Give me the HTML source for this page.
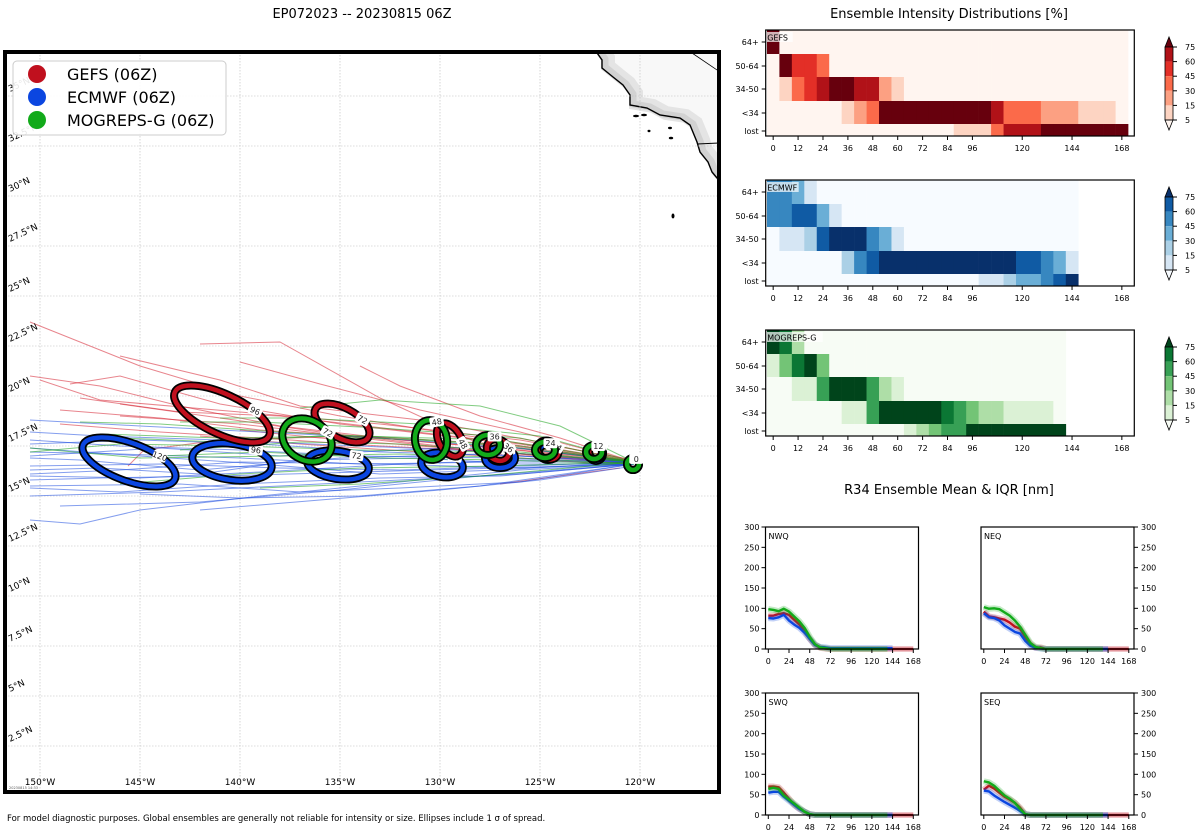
<!DOCTYPE html>
<html><head><meta charset="utf-8"><style>
html,body{margin:0;padding:0;background:#fff}
svg{display:block;font-family:"DejaVu Sans","Liberation Sans",sans-serif}
</style></head><body>
<svg id="root" width="1200" height="840" viewBox="0 0 1200 840" xmlns="http://www.w3.org/2000/svg">
<text x="362" y="18" text-anchor="middle" font-size="13">EP072023 -- 20230815 06Z</text>
<text x="949" y="18" text-anchor="middle" font-size="13">Ensemble Intensity Distributions [%]</text>
<text x="949" y="494" text-anchor="middle" font-size="13">R34 Ensemble Mean &amp; IQR [nm]</text>
<text x="7" y="821" font-size="8.5">For model diagnostic purposes. Global ensembles are generally not reliable for intensity or size. Ellipses include 1 σ of spread.</text>
<g id="map"></g>
<g id="heat"></g>
<g id="r34"></g>
</svg>
<script>
const NS="http://www.w3.org/2000/svg";
function mk(tag,attrs,parent,txt){const e=document.createElementNS(NS,tag);for(const k in attrs)e.setAttribute(k,attrs[k]);if(txt!==undefined)e.textContent=txt;parent.appendChild(e);return e;}

// ---------------- MAP DATA ----------------
const lonTicks=[150,145,140,135,130,125,120];
const latTicks=[2.5,5,7.5,10,12.5,15,17.5,20,22.5,25,27.5,30,32.5,35];
const gefsTracks=[
 [[120.3,16.7],[125,17.5],[130,18.2],[135,19],[140,20],[145,21.5],[150.5,23.7]],
 [[120.3,16.7],[126,17.3],[132,17.8],[138,18.5],[143,19.5],[147,20.5],[150.5,21]],
 [[120.3,16.7],[128,17.6],[133,19.9],[138,22.7],[142,22.6]],
 [[120.3,16.7],[127,17.2],[133,17.5],[139,17.9],[144,18.2],[149,18.6]],
 [[120.3,16.7],[128,17.8],[135,18.6],[141,19.6],[146,21],[148.5,20.6]],
 [[120.3,16.5],[126,16.9],[131,17.2],[137,17.6],[142,18.0]],
 [[120.3,16.7],[124,17.9],[128,19],[132,20.5],[134,21.5]],
 [[120.3,16.7],[127,17.6],[134,18],[141,17.8],[144.8,17.3],[145.6,16.5]],
 [[120.3,16.8],[126,17.8],[133,18.6],[140,19.2],[147,19.8],[150,20.8]],
 [[120.3,16.7],[126,18.2],[131,19.3],[136,20.6],[140,21.7]],
 [[120.3,16.6],[127,17.1],[134,17.9],[140,18.6],[146,19.0]],
 [[120.3,16.7],[125,17.0],[130,17.5],[136,18.2],[141,18.9],[146,19.6]],
 [[120.3,16.7],[126,17.6],[132,18.3],[138,19.0],[143,19.2],[148,19.9]],
 [[120.3,16.6],[127,17.4],[133,17.9],[139,18.3],[144,18.9],[149,19.3]],
 [[120.3,16.7],[125,17.7],[131,18.8],[137,19.5],[141,20.8],[146,22.0]],
 [[120.3,16.6],[126,17.1],[131,17.5],[136,17.9],[140,18.3]],
 [[121,16.4],[124,16.0],[127,15.6]]
];
const ecmwfTracks=[
 [[120.3,16.7],[126,16.5],[132,16.3],[138,16.4],[144,16.6],[150.5,16.5]],
 [[120.3,16.7],[127,16.9],[134,17],[140,17.3],[146,17.5],[150.5,17.8]],
 [[120.3,16.6],[126,16.1],[132,15.8],[138,15.5],[144,15.2],[150.5,15]],
 [[120.3,16.7],[127,17.2],[134,17.5],[141,17.8],[147,18],[150.5,18.2]],
 [[120.3,16.6],[126,16.3],[133,15.6],[139,15.0],[145,14.3],[148,13.6],[150.5,13.8]],
 [[120.3,16.7],[127,16.7],[134,16.6],[140,16.9],[146,17.1],[150.5,17.2]],
 [[120.3,16.6],[128,16.0],[135,15.3],[142,14.7],[149,14.5]],
 [[120.3,16.7],[126,17.4],[133,17.9],[139,18.2],[145,18.5],[150.5,18.8]],
 [[120.3,16.6],[127,16.4],[134,16.2],[141,16.0],[147,15.9],[150.5,15.8]],
 [[120.3,16.7],[128,17.1],[135,16.9],[142,16.3],[148,16.8],[150.5,16.9]],
 [[120.3,16.5],[125,15.8],[130,15.3],[136,14.8],[142,14.3]],
 [[120.3,16.7],[126,16.8],[132,16.6],[139,16.2],[145,15.9],[150.5,16.0]],
 [[120.3,16.6],[127,16.0],[133,15.9],[140,15.6],[146,15.2],[150.5,15.4]],
 [[120.3,16.7],[126,17.0],[133,17.2],[139,17.6],[145,17.8],[150.5,17.6]],
 [[120.3,16.6],[126,16.4],[133,16.6],[140,16.7],[146,16.3],[150.5,16.1]],
 [[120.3,16.7],[127,16.3],[133,16.1],[139,16.6],[145,17.0],[150.5,17.4]],
 [[120.3,16.6],[126,15.7],[132,15.4],[137,15.2],[143,15.6],[150.5,15.5]],
 [[120.3,16.7],[127,17.5],[132,17.3],[138,17.0],[144,17.4],[150.5,17.0]],
 [[120.3,16.6],[126,16.6],[131,16.9],[137,16.8],[142,16.1],[147,16.4],[150.5,16.3]],
 [[120.3,16.6],[128,15.5],[134,15.0],[140,14.9],[145,15.1]]
];
const mogrepsTracks=[
 [[120.3,16.7],[126,17.5],[132,17.9],[138,18.2],[144,18.6],[148,18.7]],
 [[120.3,16.7],[127,17.2],[134,17.3],[140,17.5],[146,17.6],[150.5,17.2]],
 [[120.3,16.7],[124,18.5],[128,19.5],[133,19.8],[137,19.4]],
 [[120.3,16.7],[127,16.5],[134,16.4],[140,16.1],[146,15.6]],
 [[120.3,16.7],[126,17.9],[133,18.4],[139,18.7],[143,18.7]],
 [[120.3,16.6],[126,16.9],[132,17.1],[138,17.0],[145,16.9],[150.5,17.4]],
 [[120.3,16.7],[125,18.0],[131,18.6],[137,18.9],[141,18.9]],
 [[120.3,16.7],[128,16.0],[134,15.6],[139,15.4]],
 [[120.3,16.7],[127,17.8],[134,18.0],[141,17.9],[147,18.1]],
 [[120.3,16.7],[126,17.2],[132,17.6],[137,17.7],[143,17.3]],
 [[120.3,16.7],[126,17.4],[131,17.8],[136,18.0],[141,17.7],[146,17.9]],
 [[120.3,16.6],[127,16.8],[133,16.9],[139,17.2],[144,17.0]]
];
// ellipses: lon, lat, rx(deg), ry(deg), rotation(deg), label
const gefsEll=[[140.9,19.1,2.6,1.0,25,"96"],[134.9,18.65,1.5,0.75,28,"72"],[129.5,17.8,0.9,0.55,60,"48"],[127.1,17.3,0.6,0.5,40,"36"],[124.6,17.3,0.55,0.45,30,"24"],[122.2,17.2,0.35,0.35,0,"12"]];
const ecmwfEll=[[145.55,16.7,2.45,0.95,20,"120"],[140.4,16.7,2.0,0.9,8,"96"],[135.1,16.55,1.55,0.7,8,"72"],[129.9,16.55,1.05,0.6,10,"48"],[127.0,16.9,0.75,0.5,0,"36"],[124.6,17.2,0.45,0.4,0,"24"],[122.2,17.1,0.35,0.35,0,"12"],[120.35,16.6,0.3,0.3,0,"0"]];
const mogrepsEll=[[136.65,17.8,1.3,1.0,30,"72"],[130.45,17.8,0.8,1.0,-10,"48"],[127.6,17.55,0.6,0.5,0,"36"],[124.75,17.3,0.5,0.4,0,"24"],[122.3,17.2,0.4,0.35,0,"12"],[120.35,16.6,0.3,0.3,0,"0"]];

const MX0=5,MY0=52,MX1=719,MY1=792;
function mx(lon){return 40+(150-lon)*20;}
function my(lat){return 396-(lat-20)*20;}

(function(){
 const g=document.getElementById('map');
 const defs=mk('defs',{},g);
 const cp=mk('clipPath',{id:'mapclip'},defs);
 mk('rect',{x:MX0,y:MY0,width:MX1-MX0,height:MY1-MY0},cp);
 const inner=mk('g',{'clip-path':'url(#mapclip)'},g);
 const coast=[[595,50],[602,60],[602,68],[613,77],[623,85],[630,95],[630,105],[647,108],[660,115],[680,118],[690,125],[697,142],[700,152],[708,162],[712,172],[717,178],[722,180]];
 const landPts=coast.map(p=>p.join(',')).join(' ')+' 722,50';
 const land=mk('polygon',{points:landPts,fill:'#f8f8f8'},inner);
 
 
 const cpts=coast.map(p=>p.join(',')).join(' ');
 mk('polyline',{points:cpts,fill:'none',stroke:'#e4e4e4','stroke-width':14,transform:'translate(6,-2)'},inner);
 mk('polyline',{points:cpts,fill:'none',stroke:'#d2d2d2','stroke-width':7,transform:'translate(3,-1)'},inner);
 const cl=mk('polyline',{points:cpts,fill:'none',stroke:'#000','stroke-width':1.4},inner);
 
 
 mk('line',{x1:692,y1:53,x2:720,y2:72,stroke:'#000','stroke-width':0.8},inner);
 mk('line',{x1:697,y1:144,x2:720,y2:143,stroke:'#000','stroke-width':1},inner);
 [[636,116,3,1.3],[644,115,3,1.3],[649,131,1.5,1.2],[670,128,2,1.2],[671,138,2.2,1.3],[673,216,1.5,2.5]].forEach(e=>mk('ellipse',{cx:e[0],cy:e[1],rx:e[2],ry:e[3],fill:'#000'},inner));
 lonTicks.concat([115]).forEach(l=>{const x=mx(l);const gl=mk('line',{x1:x,y1:MY0,x2:x,y2:MY1,stroke:'#bbb','stroke-width':0.6,'stroke-dasharray':'1.5,1.5'},inner);
  
  });
 latTicks.forEach(l=>{const y=my(l);const gl=mk('line',{x1:MX0,y1:y,x2:MX1,y2:y,stroke:'#bbb','stroke-width':0.6,'stroke-dasharray':'1.5,1.5'},inner);
  
  });
 function drawTracks(tr,col,name){tr.forEach(t=>{const p=mk('polyline',{points:t.map(q=>mx(q[0])+','+my(q[1])).join(' '),fill:'none',stroke:col,'stroke-width':1,'stroke-opacity':0.55},inner);
  
  });}
 drawTracks(gefsTracks,'#d62030','gefs-track');
 drawTracks(ecmwfTracks,'#1f4fe0','ecmwf-track');
 drawTracks(mogrepsTracks,'#19a219','mogreps-track');
 function drawEll(list,col,name){list.forEach(e=>{const cx=mx(e[0]),cy=my(e[1]),rx=e[2]*20,ry=e[3]*20;
  const gg=mk('g',{transform:`rotate(${e[4]} ${cx} ${cy})`},inner);
  
  
  mk('ellipse',{cx,cy,rx,ry,fill:'none',stroke:'#000','stroke-width':8},gg);
  mk('ellipse',{cx,cy,rx,ry,fill:'none',stroke:col,'stroke-width':4.5},gg);
  const lx=cx+rx*0.55,ly=cy-ry*0.85;
  mk('rect',{x:lx-7,y:ly-5,width:14,height:10,fill:'#fff',rx:2},gg);
  mk('text',{x:lx,y:ly+3,'font-size':8,'text-anchor':'middle',fill:'#222'},gg,e[5]);
 });}
 drawEll(ecmwfEll,'#0b46e0','ecmwf-ellipse');
 drawEll(gefsEll,'#c0101e','gefs-ellipse');
 drawEll(mogrepsEll,'#12aa1a','mogreps-ellipse');
 latTicks.forEach(l=>{const y=my(l)-4;const t=mk('text',{x:10,y:y,'font-size':9,transform:`rotate(-25 10 ${y})`},inner,(l%1?l.toFixed(1):l)+'°N');
  
  });
 lonTicks.forEach(l=>{const t=mk('text',{x:mx(l),y:785,'font-size':9,'text-anchor':'middle'},inner,l+'°W');
  
  });
 mk('text',{x:9,y:789,'font-size':3.5,fill:'#555'},inner,'20230815 14:33');
 const fr=mk('rect',{x:MX0,y:MY0,width:MX1-MX0,height:MY1-MY0,fill:'none',stroke:'#000','stroke-width':4},g);
 
 
 const lg=mk('g',{},g);
 
 
 mk('rect',{x:13,y:61,width:213,height:74,rx:4,fill:'#fff','fill-opacity':0.9,stroke:'#ccc'},lg);
 [['GEFS (06Z)','#c0101e',74],['ECMWF (06Z)','#0b46e0',97],['MOGREPS-G (06Z)','#12aa1a',120]].forEach(r=>{
  const e=mk('g',{},lg);
  
  
  mk('circle',{cx:37,cy:r[2],r:9,fill:r[1]},e);
  mk('text',{x:67,y:r[2]+6,'font-size':16},e,r[0]);
 });
})();

// ---------------- HEATMAP DATA ----------------
const rowLabels=["64+","50-64","34-50","<34","lost"];
const hourTicks=[0,12,24,36,48,60,72,84,96,120,144,168];
const cbTicks=[5,15,30,45,60,75];
const gefsPct=[
 [85,0,0,0,0,0,0,0,0,0,0,0,0,0,0,0,0,0,0,0,0,0,0,0,0,0,0,0,0],
 [0,85,52,52,38,0,0,0,0,0,0,0,0,0,0,0,0,0,0,0,0,0,0,0,0,0,0,0,0],
 [0,10,38,52,68,85,85,68,68,22,10,0,0,0,0,0,0,0,0,0,0,0,0,0,0,0,0,0,0],
 [0,0,0,0,0,0,10,22,38,85,85,85,85,85,85,85,85,85,68,38,38,38,22,22,22,10,10,10,0],
 [0,0,0,0,0,0,0,0,0,0,0,0,0,0,0,10,10,10,38,68,68,68,85,85,85,85,85,85,85]
];
const ecmwfPct=[
 [52,52,38,10,0,0,0,0,0,0,0,0,0,0,0,0,0,0,0,0,0,0,0,0,0,null,null,null,null],
 [52,52,68,68,38,10,0,0,0,0,0,0,0,0,0,0,0,0,0,0,0,0,0,0,0,null,null,null,null],
 [0,10,10,22,68,85,85,85,52,38,10,0,0,0,0,0,0,0,0,0,0,0,0,0,0,null,null,null,null],
 [0,0,0,0,0,0,22,52,68,85,85,85,85,85,85,85,85,85,85,85,68,68,52,38,10,null,null,null,null],
 [0,0,0,0,0,0,0,0,0,0,0,0,0,0,0,0,0,10,10,22,38,38,52,68,85,null,null,null,null]
];
const mogrepsPct=[
 [85,68,22,0,0,0,0,0,0,0,0,0,0,0,0,0,0,0,0,0,0,0,0,0,null,null,null,null,null],
 [10,38,68,85,38,0,0,0,0,0,0,0,0,0,0,0,0,0,0,0,0,0,0,0,null,null,null,null,null],
 [0,0,10,10,52,85,85,85,52,22,10,0,0,0,0,0,0,0,0,0,0,0,0,0,null,null,null,null,null],
 [0,0,0,0,0,0,10,10,52,85,85,85,85,85,68,52,38,22,22,10,10,10,10,0,null,null,null,null,null],
 [0,0,0,0,0,0,0,0,0,0,0,10,22,38,52,52,85,85,85,85,85,85,85,85,null,null,null,null,null]
];
const reds=['#fff5f0','#fdd4c2','#fca082','#fb6a4a','#e32f27','#b11218','#67000d'];
const blues=['#f7fbff','#d6e6f4','#abd0e6','#6aaed6','#3787c0','#105ba4','#08306b'];
const greens=['#f7fcf5','#dbf1d5','#aedea7','#73c476','#37a055','#0b7734','#00441b'];
function bin(v){return v<5?0:v<15?1:v<30?2:v<45?3:v<60?4:v<75?5:6;}

(function(){
 const g=document.getElementById('heat');
 const HX0=765.7,HX1=1134.3,H0=-3.6,H1=174;
 function hx(h){return HX0+(h-H0)*(HX1-HX0)/(H1-H0);}
 const rowEdges=[0,24,47,71,94,106];
 const panels=[[gefsPct,reds,'GEFS',30],[ecmwfPct,blues,'ECMWF',180],[mogrepsPct,greens,'MOGREPS-G',330]];
 panels.forEach(p=>{
  const [data,cm,name,top]=p;
  const pg=mk('g',{},g);
  
  
  data.forEach((row,r)=>{row.forEach((v,i)=>{if(v===null)return;
   const x0=Math.max(hx(6*i-3),HX0),x1=Math.min(hx(6*i+3),HX1);
   const c=mk('rect',{x:x0,y:top+rowEdges[r],width:x1-x0+0.3,height:rowEdges[r+1]-rowEdges[r]+0.3,fill:cm[bin(v)]},pg);
   
   
  });});
  mk('rect',{x:HX0,y:top,width:HX1-HX0,height:106,fill:'none',stroke:'#000','stroke-width':1.2},pg);
  mk('rect',{x:HX0+1,y:top+2,width:name.length*6+2,height:10,fill:'#fff','fill-opacity':0.7},pg);
  mk('text',{x:HX0+1.5,y:top+10.5,'font-size':8},pg,name);
  rowLabels.forEach((l,r)=>{const y=r<4?top+rowEdges[r]+12:top+101;
   mk('line',{x1:HX0-4,y1:y,x2:HX0,y2:y,stroke:'#000'},pg);
   const t=mk('text',{x:HX0-7,y:y+3,'font-size':8,'text-anchor':'end'},pg,l);
   
   });
  hourTicks.forEach(h=>{const x=hx(h);mk('line',{x1:x,y1:top+106,x2:x,y2:top+110,stroke:'#000'},pg);
   const t=mk('text',{x:x,y:top+121,'font-size':8,'text-anchor':'middle'},pg,h);
   
   });
  const cb=mk('g',{},pg);
  
  
  const cx0=1165,cw=8,ct=top+7;
  mk('polygon',{points:`${cx0},${ct+10} ${cx0+cw/2},${ct} ${cx0+cw},${ct+10}`,fill:cm[6],stroke:'#000','stroke-width':0.8},cb);
  for(let k=0;k<5;k++){mk('rect',{x:cx0,y:ct+10+k*14.6,width:cw,height:14.6,fill:cm[5-k]},cb);}
  mk('polygon',{points:`${cx0},${ct+83} ${cx0+cw/2},${ct+93} ${cx0+cw},${ct+83}`,fill:cm[0],stroke:'#000','stroke-width':0.8},cb);
  mk('rect',{x:cx0,y:ct+10,width:cw,height:73,fill:'none',stroke:'#000','stroke-width':0.8},cb);
  cbTicks.forEach((v,k)=>{const y=ct+83-k*14.6;mk('line',{x1:cx0+cw,y1:y,x2:cx0+cw+4,y2:y,stroke:'#000'},cb);
   mk('text',{x:cx0+cw+12,y:y+3,'font-size':8},cb,v);});
 });
})();

// ---------------- R34 DATA ----------------
const r34Hours=[0,6,12,18,24,30,36,42,48,54,60,66,72];
const nwqGefs=[82,82,86,88,84,72,60,45,25,10,3,1,0];
const nwqEcmwf=[76,75,78,84,70,60,52,40,25,10,5,4,2];
const nwqMog=[98,96,93,99,92,80,68,52,30,12,4,2,0];
const neqGefs=[92,80,78,75,72,65,55,50,30,12,3,4,0];
const neqEcmwf=[88,78,76,70,58,50,42,38,20,8,3,1,0];
const neqMog=[103,99,100,98,90,82,70,55,35,15,5,2,0];
const swqGefs=[70,70,68,55,40,25,15,8,2,0,0,0,0];
const swqEcmwf=[55,57,57,45,35,25,15,8,2,0,0,0,0];
const swqMog=[64,67,64,48,38,28,18,8,2,0,0,0,0];
const seqGefs=[62,72,65,55,45,38,30,18,2,0,0,0,0];
const seqEcmwf=[60,58,48,40,32,25,18,10,2,0,0,0,0];
const seqMog=[83,80,72,60,48,40,30,15,2,0,0,0,0];
const endHour={gefs:168,ecmwf:144,mogreps:138};
const r34Ticks=[0,50,100,150,200,250,300];
const r34XTicks=[0,24,48,72,96,120,144,168];

(function(){
 const g=document.getElementById('r34');
 const panels=[['NWQ',765.5,527,nwqGefs,nwqEcmwf,nwqMog,'left'],['NEQ',981,527,neqGefs,neqEcmwf,neqMog,'right'],
  ['SWQ',765.5,693,swqGefs,swqEcmwf,swqMog,'left'],['SEQ',981,693,seqGefs,seqEcmwf,seqMog,'right']];
 panels.forEach(p=>{
  const [name,x0,y0,gf,ec,mo,side]=p;const W=153,H=122;
  const pg=mk('g',{},g);
  
  
  const sx=h=>x0+2.8+h*(145/168), sy=v=>y0+H-v*(H/300);
  function series(vals,end,col,nm){
   const pts=r34Hours.map((h,i)=>[sx(h),sy(vals[i])]);
   pts.push([sx(end),sy(vals[vals.length-1])]);
   const s=pts.map(q=>q.join(',')).join(' ');
   mk('polyline',{points:s,fill:'none',stroke:col,'stroke-width':6,'stroke-opacity':0.25,'stroke-linejoin':'round'},pg);
   const l=mk('polyline',{points:s,fill:'none',stroke:col,'stroke-width':2.4,'stroke-linejoin':'round'},pg);
   
   
  }
  series(gf,endHour.gefs,'#c0101e','gefs');
  series(ec,endHour.ecmwf,'#0b46e0','ecmwf');
  series(mo,endHour.mogreps,'#12aa1a','mogreps');
  mk('rect',{x:x0,y:y0,width:W,height:H,fill:'none',stroke:'#000','stroke-width':1.2},pg);
  mk('text',{x:x0+3,y:y0+12,'font-size':8},pg,name);
  r34Ticks.forEach(v=>{const y=sy(v);
   if(side==='left'){mk('line',{x1:x0-4,y1:y,x2:x0,y2:y,stroke:'#000'},pg);mk('text',{x:x0-6,y:y+3,'font-size':8,'text-anchor':'end'},pg,v);}
   else{mk('line',{x1:x0+W,y1:y,x2:x0+W+4,y2:y,stroke:'#000'},pg);mk('text',{x:x0+W+7,y:y+3,'font-size':8},pg,v);}
  });
  r34XTicks.forEach(h=>{const x=sx(h);mk('line',{x1:x,y1:y0+H,x2:x,y2:y0+H+4,stroke:'#000'},pg);
   mk('text',{x:x,y:y0+H+15,'font-size':8,'text-anchor':'middle'},pg,h);});
 });
})();
</script>
</body></html>
